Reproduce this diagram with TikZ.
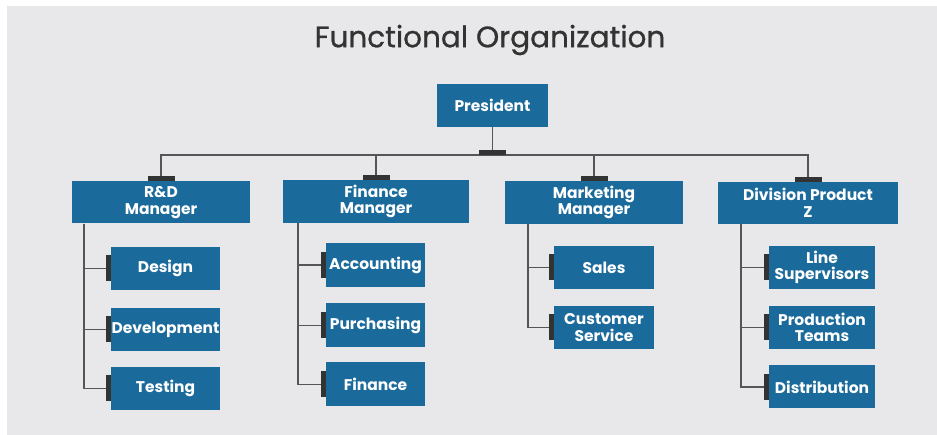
\documentclass[tikz,border=0pt]{standalone}
\usepackage{fontspec}
\setmainfont{Poppins}
\newfontfamily\titlefont{Poppins}[FakeBold=0.8]
\definecolor{bg}{RGB}{232,232,234}
\definecolor{boxblue}{RGB}{26,106,155}
\definecolor{linegray}{RGB}{85,85,85}
\definecolor{bardark}{RGB}{51,51,51}
\definecolor{titlegray}{RGB}{51,51,51}
\tikzset{
  unit/.style={fill=boxblue, text=white, font=\fontsize{15.5}{16.5}\selectfont\bfseries, align=center, inner sep=0pt},
  conn/.style={draw=linegray, line width=1.4pt},
  barfill/.style={fill=bardark}
}
\begin{document}
\begin{tikzpicture}[x=1pt,y=-1pt]
\useasboundingbox (0,0) rectangle (937,435);
\fill[white] (0,0) rectangle (937,435);
\fill[bg] (7,6) rectangle (937,435);
\node[font=\titlefont\fontsize{29.5}{32}\selectfont, text=titlegray] (title) at (490,40) {Functional Organization};
% president
\node[unit, minimum width=111pt, minimum height=43pt] (pres) at (492.5,105.5) {President};
% managers
\node[unit, minimum width=178pt, minimum height=42pt] (rd) at (161,202.5) {R\&D\\Manager};
\node[unit, minimum width=186pt, minimum height=43pt] (fin) at (376,201.5) {Finance\\Manager};
\node[unit, minimum width=178pt, minimum height=43pt] (mkt) at (594,202.5) {Marketing\\Manager};
\node[unit, minimum width=180pt, minimum height=42pt] (div) at (808,203) {Division Product\\Z};
% children
\node[unit, minimum width=109pt, minimum height=43pt] (design) at (165.5,268.5) {Design};
\node[unit, minimum width=109pt, minimum height=43pt] (devel) at (165.5,329.5) {Development};
\node[unit, minimum width=109pt, minimum height=43pt] (test) at (165.5,388.5) {Testing};
\node[unit, minimum width=99pt, minimum height=44pt] (acc) at (375.5,265) {Accounting};
\node[unit, minimum width=99pt, minimum height=44pt] (pur) at (375.5,325.5) {Purchasing};
\node[unit, minimum width=99pt, minimum height=44pt] (finc) at (375.5,384.5) {Finance};
\node[unit, minimum width=100pt, minimum height=43pt] (sales) at (604,267.5) {Sales};
\node[unit, minimum width=100pt, minimum height=43pt] (cs) at (604,327.5) {Customer\\Service};
\node[unit, minimum width=106pt, minimum height=43pt] (ls) at (822,267.5) {Line\\Supervisors};
\node[unit, minimum width=106pt, minimum height=43pt] (pt) at (822,327.5) {Production\\Teams};
\node[unit, minimum width=106pt, minimum height=43pt] (dist) at (822,387) {Distribution};
% top connectors
\coordinate (hub) at (492.5,155);
\coordinate (rdtop) at ([yshift=5pt]rd.north);
\coordinate (fintop) at ([yshift=5pt]fin.north);
\coordinate (mkttop) at ([yshift=5pt]mkt.north);
\coordinate (divtop) at ([yshift=5pt]div.north);
\draw[conn] (pres.south) -- (hub);
\draw[conn] (rdtop) |- (hub);
\draw[conn] (fintop) |- (hub);
\draw[conn] (mkttop) |- (hub);
\draw[conn] (divtop) |- (hub);
\fill[barfill] ([xshift=-13.5pt]hub) rectangle ([xshift=13.5pt,yshift=4.5pt]hub);
\foreach \m in {rd,fin,mkt,div}{
  \fill[barfill] ([xshift=-13.5pt]\m.north) rectangle ([xshift=13.5pt,yshift=5pt]\m.north);
}
% side connectors
\coordinate (rdv) at ([xshift=12pt]rd.south west);
\coordinate (finv) at ([xshift=15pt]fin.south west);
\coordinate (mktv) at ([xshift=23pt]mkt.south west);
\coordinate (divv) at ([xshift=23pt]div.south west);
\foreach \v/\c in {rdv/design, rdv/devel, rdv/test, finv/acc, finv/pur, finv/finc, mktv/sales, mktv/cs, divv/ls, divv/pt, divv/dist}{
  \draw[conn] (\v) |- (\c.west);
  \fill[barfill] ([xshift=-4.5pt,yshift=-13pt]\c.west) rectangle ([yshift=13pt]\c.west);
}
\end{tikzpicture}
\end{document}
